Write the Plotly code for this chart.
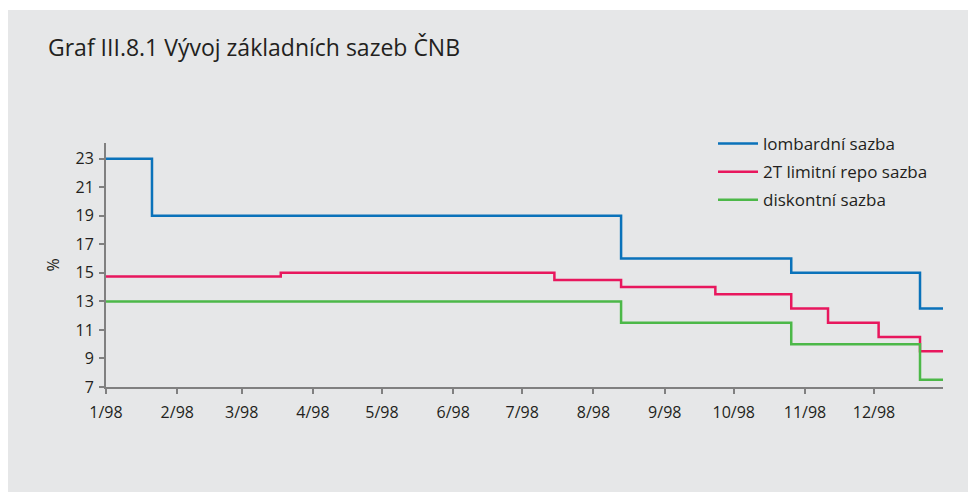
import plotly.graph_objects as go

# Data (step changes: date of change, new value)
lombard_dates = ["1998-01-01", "1998-01-21", "1998-08-13", "1998-10-26", "1998-12-21", "1998-12-31"]
lombard_vals = [23, 19, 16, 15, 12.5, 12.5]

repo_dates = ["1998-01-01", "1998-03-18", "1998-07-15", "1998-08-13", "1998-09-23",
              "1998-10-26", "1998-11-11", "1998-12-03", "1998-12-21", "1998-12-31"]
repo_vals = [14.75, 15, 14.5, 14, 13.5, 12.5, 11.5, 10.5, 9.5, 9.5]

discount_dates = ["1998-01-01", "1998-08-13", "1998-10-26", "1998-12-21", "1998-12-31"]
discount_vals = [13, 11.5, 10, 7.5, 7.5]

series_names = ["lombardní sazba", "2T limitní repo sazba", "diskontní sazba"]
y_ticks = [7, 9, 11, 13, 15, 17, 19, 21, 23]
x_tick_dates = ["1998-%02d-01" % m for m in range(1, 13)]
x_tick_labels = ["%d/98" % m for m in range(1, 13)]

colors = ["#0a72ba", "#e8175d", "#4cb848"]
font_family = "'Open Sans', Lato, sans-serif"

fig = go.Figure()
for i, (d, v, n, c) in enumerate([(lombard_dates, lombard_vals, series_names[0], colors[0]),
                                  (repo_dates, repo_vals, series_names[1], colors[1]),
                                  (discount_dates, discount_vals, series_names[2], colors[2])]):
    fig.add_trace(go.Scatter(x=d, y=v, name=n, mode="lines", legendgroup="g%d" % i,
                             line=dict(color=c, width=2.5, shape="hv")))

W, H = 976, 493
OFF = 8  # page body margin offset
# target screen positions of plot area
SL, SR, ST, SB = 106, 943, 143, 387
L = SL - OFF
T = ST - OFF
pw, ph = SR - SL, SB - ST
R = W - L - pw
B = H - T - ph

def px(xs):
    return (xs - SL) / pw

def py(ys):
    return (SB - ys) / ph

fig.add_shape(type="rect", xref="paper", yref="paper",
              x0=px(7), x1=px(1000), y0=py(492), y1=py(10),
              fillcolor="#e6e7e8", line=dict(width=0), layer="below")

fig.add_annotation(text="Graf III.8.1 Vývoj základních sazeb ČNB", xref="paper", yref="paper",
                   x=px(46), y=py(47), xanchor="left", yanchor="middle", showarrow=False,
                   font=dict(size=23, color="#231f20", family=font_family))

fig.update_layout(
    width=W, height=H,
    margin=dict(l=L, r=R, t=T, b=B),
    paper_bgcolor="white",
    plot_bgcolor="rgba(0,0,0,0)",
    font=dict(family=font_family, color="#231f20", size=15),
    showlegend=True,
    legend=dict(x=px(713), y=py(126), xanchor="left", yanchor="top",
                bgcolor="rgba(0,0,0,0)", font=dict(size=17), tracegroupgap=3,
                itemwidth=40),
    xaxis=dict(type="date", range=["1998-01-01", "1998-12-31"],
               tickmode="array", tickvals=x_tick_dates, ticktext=x_tick_labels,
               showgrid=False, zeroline=False, showline=True, linecolor="#808080", linewidth=2,
               ticks="outside", ticklen=5, tickwidth=2, tickcolor="#808080",
               ticklabelstandoff=5, tickfont=dict(size=16)),
    yaxis=dict(range=[7, 24.1], tickmode="array", tickvals=y_ticks,
               showgrid=False, zeroline=False, showline=True, linecolor="#808080", linewidth=2,
               ticks="outside", ticklen=5, tickwidth=2, tickcolor="#808080",
               ticklabelstandoff=2, tickfont=dict(size=16),
               title=dict(text="%", font=dict(size=16), standoff=12)),
)

fig.write_html("out.html")
